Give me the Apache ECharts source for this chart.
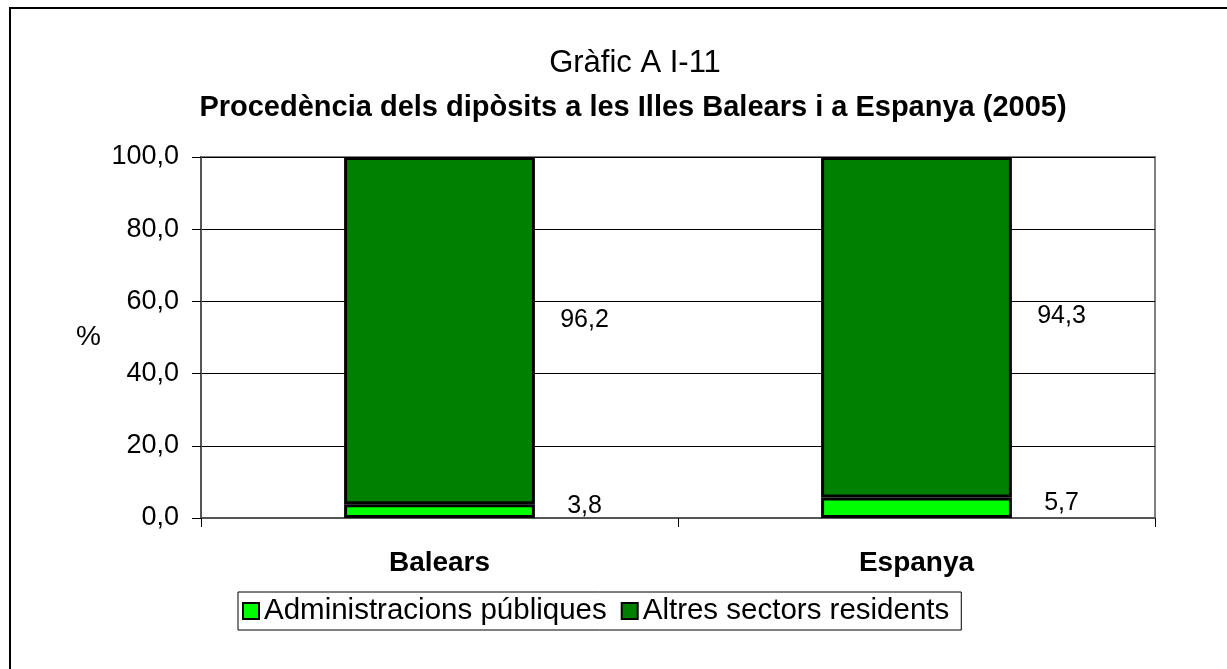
<!DOCTYPE html>
<html>
<head>
<meta charset="utf-8">
<script src="https://cdn.jsdelivr.net/npm/echarts@6/dist/echarts.min.js"></script>
<style>
html,body{margin:0;padding:0;background:#fff;}
#chart{width:1227px;height:669px;}
</style>
</head>
<body>
<div id="chart"></div>
<script>
const categories = ['Balears', 'Espanya'];
const seriesNames = ['Administracions públiques', 'Altres sectors residents'];
const adminValues = [3.8, 5.7];
const altresValues = [96.2, 94.3];
const yTicks = [0, 20, 40, 60, 80, 100];

const FONT = '"Liberation Sans", Arial, sans-serif';
const fmt = v => Number(v).toFixed(1).replace('.', ',');

function labelCfg(dy) {
  return {
    show: true,
    position: ['126%', '50%'],
    align: 'center',
    verticalAlign: 'middle',
    offset: [0, dy],
    fontFamily: FONT,
    fontSize: 25,
    color: '#000',
    formatter: p => fmt(p.value)
  };
}

const chart = echarts.init(document.getElementById('chart'), null, {renderer: 'canvas'});
chart.setOption({
  backgroundColor: '#fff',
  animation: false,
  textStyle: {fontFamily: FONT},
  graphic: [{
    type: 'rect',
    shape: {x: 10, y: 8, width: 1400, height: 800},
    style: {fill: 'none', stroke: '#000', lineWidth: 2},
    silent: true
  }],
  title: [{
    text: 'Gràfic A I-11',
    left: 630, textAlign: 'center', top: 43,
    textStyle: {fontFamily: FONT, fontSize: 31, fontWeight: 'normal', color: '#000'}
  }, {
    text: 'Procedència dels dipòsits a les Illes Balears i a Espanya (2005)',
    left: 628, textAlign: 'center', top: 88,
    textStyle: {fontFamily: FONT, fontSize: 29, fontWeight: 'bold', color: '#000'}
  }],
  legend: {
    left: 238, top: 592,
    orient: 'horizontal',
    data: seriesNames,
    icon: 'rect',
    itemWidth: 16, itemHeight: 16,
    itemGap: 14,
    padding: [4, 12, 4, 4],
    borderColor: '#000', borderWidth: 1,
    itemStyle: {borderColor: '#000', borderWidth: 2},
    textStyle: {fontFamily: FONT, fontSize: 29.5, color: '#000', padding: [0, 0, 0, 0]}
  },
  grid: {
    left: 201, right: 72, top: 157, bottom: 151,
    show: true, borderColor: '#808080', borderWidth: 2, backgroundColor: '#fff'
  },
  xAxis: {
    type: 'category',
    data: categories,
    axisLine: {show: true, lineStyle: {color: '#555', width: 2}},
    axisTick: {show: true, alignWithLabel: false, length: 9, lineStyle: {color: '#000', width: 1}},
    axisLabel: {fontFamily: FONT, fontSize: 28, fontWeight: 'bold', color: '#000', margin: 31},
    splitLine: {show: false}
  },
  yAxis: {
    type: 'value',
    min: 0, max: 100, interval: 20,
    name: '%',
    nameLocation: 'middle',
    nameRotate: 0,
    nameGap: 100,
    nameTextStyle: {fontFamily: FONT, fontSize: 28, color: '#000'},
    axisLine: {show: true, lineStyle: {color: '#555', width: 2}},
    axisTick: {show: true, inside: false, length: 9, lineStyle: {color: '#000', width: 1}},
    axisLabel: {fontFamily: FONT, fontSize: 27, color: '#000', margin: 22,
      formatter: v => fmt(v)},
    splitLine: {show: true, lineStyle: {color: '#000', width: 1}}
  },
  series: [{
    name: seriesNames[0],
    type: 'bar',
    stack: 'total',
    barWidth: '40%',
    data: adminValues,
    itemStyle: {color: '#00ff00', borderColor: '#000', borderWidth: 3},
    label: labelCfg(-5)
  }, {
    name: seriesNames[1],
    type: 'bar',
    stack: 'total',
    barWidth: '40%',
    data: altresValues,
    itemStyle: {color: '#008000', borderColor: '#000', borderWidth: 3},
    label: labelCfg(-11)
  }]
});
</script>
</body>
</html>
